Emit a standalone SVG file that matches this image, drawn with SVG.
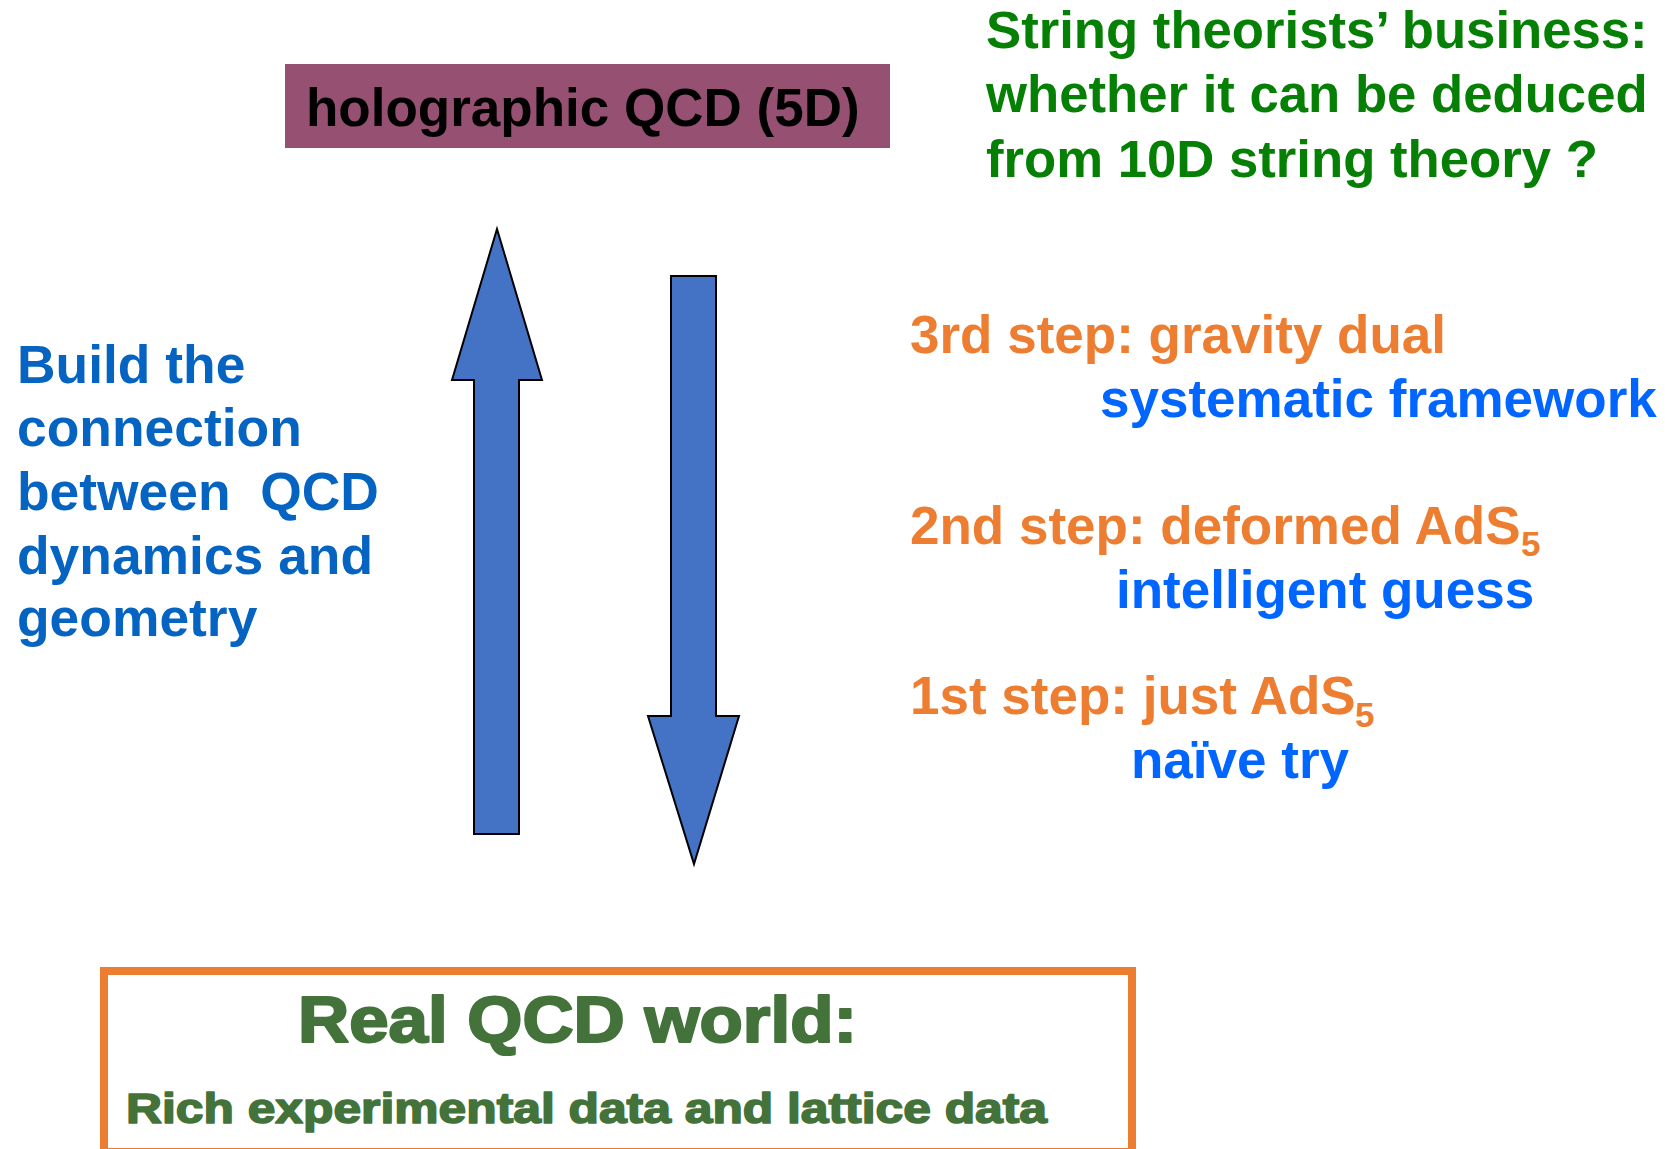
<svg xmlns="http://www.w3.org/2000/svg" width="1668" height="1149" viewBox="0 0 1668 1149">
<style>
  text { font-family: "Liberation Sans", Arial, sans-serif; font-weight: bold; }
  .green { fill: #058005; font-size: 52.7px; }
  .left { fill: #0563C1; font-size: 53.4px; }
  .step { fill: #ED7D31; font-size: 53px; }
  .desc { fill: #0066FF; font-size: 53px; }
  .sub { font-size: 35px; }
  .arrow { fill: #4472C4; stroke: #000; stroke-width: 2; stroke-linejoin: miter; }
  .real { fill: #43733A; stroke: #43733A; stroke-linejoin: round; }
</style>
<rect width="1668" height="1149" fill="#fff"/>

<g id="holographic">
  <rect x="285" y="64" width="605" height="84" fill="#955072"/>
  <text x="306" y="126" font-size="53" fill="#000">holographic QCD (5D)</text>
</g>

<g id="string-theorists">
  <text class="green" x="986" y="48">String theorists’ business:</text>
  <text class="green" x="986" y="112">whether it can be deduced</text>
  <text class="green" x="986" y="177">from 10D string theory ?</text>
</g>

<g id="build-connection">
  <text class="left" x="17" y="383">Build the</text>
  <text class="left" x="17" y="446">connection</text>
  <text class="left" x="17" y="510" xml:space="preserve">between  QCD</text>
  <text class="left" x="17" y="574">dynamics and</text>
  <text class="left" x="17" y="636">geometry</text>
</g>

<g id="step3">
  <text class="step" x="910" y="353">3rd step: gravity dual</text>
  <text class="desc" x="1100" y="417">systematic framework</text>
</g>
<g id="step2">
  <text class="step" x="910" y="544">2nd step: deformed AdS<tspan class="sub" x="1521" y="556">5</tspan></text>
  <text class="desc" x="1116" y="608">intelligent guess</text>
</g>
<g id="step1">
  <text class="step" x="910" y="714">1st step: just AdS<tspan class="sub" x="1355" y="727">5</tspan></text>
  <text class="desc" x="1131" y="778">naïve try</text>
</g>

<g id="connectors">
  <polygon class="arrow" points="497,229 542,380 519,380 519,834 474,834 474,380 452,380"/>
  <polygon class="arrow" points="671,276 716,276 716,716 739,716 694,864 648,716 671,716"/>
</g>

<g id="real-qcd">
  <rect x="104" y="971" width="1028" height="181" fill="#fff" stroke="#ED7D31" stroke-width="8"/>
  <text class="real" x="298" y="1042" font-size="65" stroke-width="2.2" textLength="559" lengthAdjust="spacingAndGlyphs">Real QCD world:</text>
  <text class="real" x="126" y="1123" font-size="42" stroke-width="1.6" textLength="921" lengthAdjust="spacingAndGlyphs">Rich experimental data and lattice data</text>
</g>
</svg>
